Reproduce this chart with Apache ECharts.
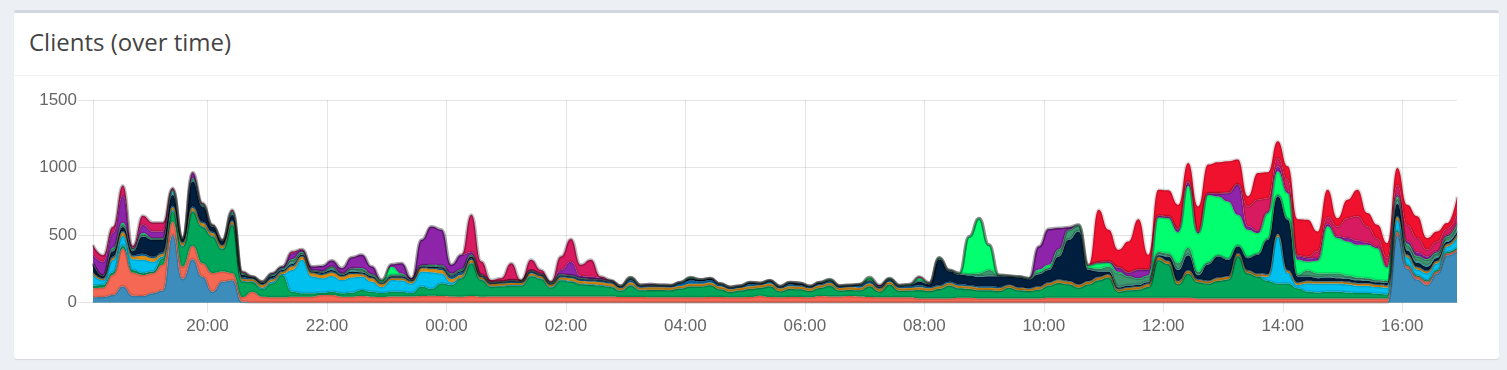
<!DOCTYPE html>
<html>
<head>
<meta charset="utf-8">
<title>Clients (over time)</title>
<script src="https://cdn.jsdelivr.net/npm/echarts/dist/echarts.min.js"></script>
<style>
  html, body { margin: 0; padding: 0; background: #ecf0f5; width: 1507px; height: 370px; overflow: hidden; }
  .box { position: absolute; left: 14px; top: 10px; width: 1485px; height: 349px; background: #fff;
         border-top: 3px solid #d2d6de; border-radius: 3px; box-shadow: 0 1px 1px rgba(0,0,0,0.1); box-sizing: border-box; }
  .box-header { position: absolute; left: 0; top: 0; width: 100%; height: 62px; border-bottom: 1px solid #f4f4f4; }
  .title { position: absolute; left: 29px; top: 30px; margin: 0; font-family: "Open Sans", sans-serif; font-weight: 400;
           font-size: 24px; line-height: 24px; color: #444; white-space: nowrap; }
  #chart { position: absolute; left: 0; top: 0; width: 1507px; height: 370px; }
</style>
</head>
<body>
<div class="box"><div class="box-header"></div></div>
<div class="title">Clients (over time)</div>
<div id="chart"></div>
<script>
// ---- time axis: 10-minute buckets starting 18:05 (day 1) ----
const startTime = '18:05';
const stepMinutes = 10;
const xTickLabels = ['20:00','22:00','00:00','02:00','04:00','06:00','08:00','10:00','12:00','14:00','16:00'];
const yTicks = [0, 500, 1000, 1500];

// ---- one array per client (stacked bottom -> top) ----
const clientSteelblue = [38,40,55,120,50,48,68,88,502,175, 321,190,80,155,165,5,0,0,0,0,
  0,0,0,0,0,0,0,0,0,0, 0,0,0,0,0,0,0,0,0,0, 0,0,0,0,0,0,0,0,0,0, 0,0,0,0,0,0,0,0,0,0,
  0,0,0,0,0,0,0,0,0,0, 0,0,0,0,0,0,0,0,0,0, 0,0,0,0,0,0,0,0,0,0, 0,0,0,0,0,0,0,0,0,0,
  0,0,0,0,0,0,0,0,0,0, 0,0,0,0,0,0,0,0,0,0, 0,0,0,0,0,0,0,0,0,0,
  0,500,250,170,130,215,350,380];
const clientSalmon = [67,70,150,280,170,156,149,191,98,90, 99,100,137,74,52,35,80,43,38,38,
  43,43,43,55,55,43,43,48,43,40, 45,45,45,48,50,48,45,43,48,43, 45,45,45,45,45,45,45,45,45,45,
  45,45,45,40,40,40,38,38,38,38, 38,38,40,40,38,38,40,50,40,38, 40,40,38,48,45,45,48,45,40,38,
  38,38,38,30,30,30,30,35,35,30, 30,30,30,30,30,30,35,35,35,35, 35,35,35,35,35,35,35,35,35,35,
  35,30,30,30,30,30,30,30,30,30, 30,30,30,30,30,30,30,30,30,30, 30,25,20,20,25,15,15,15];
const clientGreen = [20,20,20,25,20,13,12,49,75,150, 255,270,272,166,359,115,72,57,104,166,
  37,25,25,18,25,25,30,45,37,30, 35,35,25,70,50,94,85,137,243,124, 70,75,80,80,150,130,65,120,110,90,
  85,80,70,45,85,50,55,55,53,65, 80,80,88,58,40,50,60,58,80,45, 60,58,47,60,80,43,45,45,80,43,
  95,48,50,63,55,70,95,70,65,60, 60,55,80,60,55,65,90,110,100,75, 100,130,150,45,55,60,80,280,250,100,
  180,120,110,130,140,315,187,162,130,110, 110,75,50,45,50,50,45,40,40,35, 30,10,10,10,10,10,10,10];
const clientCyan = [80,35,90,70,80,99,73,13,12,5, 5,5,5,5,5,5,5,10,13,7,
  161,250,124,107,117,99,113,99,75,45, 87,85,70,111,125,75,20,5,5,5, 5,5,5,5,5,5,5,5,5,5,
  5,5,5,5,5,5,2,2,2,2, 2,2,2,2,2,2,2,2,2,2, 2,2,2,2,2,2,2,2,2,2,
  2,2,2,2,2,2,2,2,2,2, 2,2,2,2,2,2,2,2,2,2, 2,2,2,2,2,2,2,2,2,2,
  2,2,2,2,2,2,2,2,30,350, 80,25,62,65,60,60,60,55,55,50, 50,78,55,45,52,50,40,80];
const clientOrange = [15,10,15,25,20,30,26,19,18,20, 20,23,20,20,19,15,15,20,17,15,
  25,23,25,24,25,25,25,18,25,20, 13,15,15,25,25,24,25,19,20,15, 15,15,15,15,17,15,15,15,20,20,
  20,20,20,15,20,15,18,18,18,18, 18,18,18,18,18,18,18,18,18,18, 18,18,18,18,18,18,18,18,18,18,
  18,18,18,18,18,18,18,18,18,18, 18,18,15,15,15,18,18,18,18,18, 18,18,18,15,18,18,18,18,18,18,
  18,15,15,18,18,15,15,15,15,15, 15,15,15,15,15,15,15,15,15,15, 15,20,15,15,15,15,15,15];
const clientBlue = [5,5,10,10,10,15,10,10,12,5, 12,10,10,5,10,10,5,5,10,5,
  10,5,5,8,8,5,8,5,5,5, 5,5,5,5,5,10,15,18,10,5, 5,5,10,5,10,5,5,10,10,10,
  10,10,10,8,15,8,8,8,8,18, 25,18,18,13,8,8,16,8,16,8, 16,8,8,8,13,8,8,16,18,8,
  13,13,13,15,10,8,8,10,10,10, 10,10,5,5,5,5,5,5,5,5, 5,5,5,5,5,5,5,5,5,5,
  5,5,5,5,5,5,5,5,5,5, 5,5,5,5,5,5,5,5,5,5, 5,10,5,5,5,5,5,5];
const clientNavy = [60,15,40,30,30,128,126,94,82,25, 186,114,37,29,40,20,10,10,15,10,
  10,10,7,10,11,7,10,8,10,5, 10,10,5,8,10,10,10,10,14,5, 5,5,5,5,5,5,5,5,5,5,
  5,5,5,5,10,7,5,5,5,5, 15,10,10,5,5,5,10,5,5,5, 10,15,5,10,5,5,5,5,5,5,
  5,5,5,25,20,190,78,70,70,70, 75,80,60,73,65,90,90,170,304,391, 80,40,20,10,10,10,10,10,30,80,
  110,30,120,155,120,48,89,139,254,276, 373,42,30,20,25,20,20,20,15,15, 15,90,30,30,29,20,15,20];
const clientTeal = [0,0,5,5,5,5,2,2,25,5, 12,5,3,2,10,5,2,3,8,10,
  10,5,5,5,10,5,10,5,5,5, 5,5,3,3,5,5,5,5,5,3, 3,3,3,3,3,3,3,3,3,3,
  3,3,3,3,5,3,2,2,2,2, 2,2,2,2,2,2,2,2,2,2, 2,2,2,2,2,2,2,2,2,2,
  2,2,2,5,3,5,5,5,5,5, 5,3,3,3,3,5,5,5,5,5, 5,5,5,5,5,5,5,5,5,5,
  5,5,5,5,5,5,5,5,5,5, 5,5,5,5,5,5,5,5,5,5, 5,15,10,10,10,10,10,10];
const clientOlive = [5,5,10,10,5,10,5,5,5,0, 5,5,3,2,5,5,1,3,5,5,
  20,10,5,5,15,5,15,20,5,5, 5,5,2,3,5,5,5,5,5,2, 2,2,2,2,2,2,2,2,2,2,
  2,2,2,2,5,2,2,2,2,2, 2,2,2,2,2,2,2,2,2,2, 2,2,2,2,2,2,2,2,2,2,
  2,2,2,5,3,5,5,5,5,20, 40,4,2,2,3,10,10,45,70,40, 10,15,30,100,60,40,40,20,20,45,
  50,20,10,5,5,5,5,5,5,5, 5,10,40,30,25,30,20,15,15,10, 10,22,30,35,40,25,25,40];
const clientLime = [5,0,10,15,5,10,5,5,5,5, 7,5,3,2,10,5,1,2,2,0,
  5,5,0,0,0,0,0,5,5,12, 60,10,0,3,5,5,5,5,5,2, 0,0,0,0,0,0,5,5,2,2,
  0,0,0,0,2,0,2,0,0,0, 5,0,0,0,0,0,0,0,0,0, 0,0,0,0,5,0,0,0,20,0,
  5,0,5,19,3,5,0,2,279,410, 187,2,2,2,2,20,25,5,0,5, 20,40,30,10,5,5,5,255,260,230,
  460,285,500,436,424,225,201,151,189,176, 188,109,66,95,349,262,252,242,247,237, 100,15,10,5,5,5,5,10];
const clientPurple = [60,100,110,200,10,62,50,50,7,0, 38,5,3,2,5,5,1,2,5,10,
  44,14,27,39,45,40,82,100,56,0, 18,76,10,188,283,263,64,106,20,5, 2,0,0,0,0,5,0,30,100,15,
  15,12,5,0,0,0,5,0,0,0, 0,0,0,0,0,0,0,0,0,0, 0,0,0,0,0,0,0,0,0,10,
  0,0,0,5,3,0,0,0,0,0, 0,0,0,0,0,170,264,156,19,0, 4,5,5,30,25,60,40,10,10,20,
  25,10,10,20,61,223,25,15,10,37, 15,24,25,20,20,12,25,30,15,10, 10,15,20,25,20,10,10,15];
const clientPink = [72,50,45,76,15,67,67,67,7,0, 5,5,3,2,7,4,0,0,0,0,
  13,5,0,0,0,0,0,0,0,0, 0,0,0,0,0,0,0,0,275,95, 15,25,126,7,79,26,5,101,168,82,
  126,10,2,0,0,0,0,0,0,0, 0,0,0,0,0,0,0,0,0,0, 0,0,0,0,0,0,0,0,0,0,
  0,0,0,5,0,0,0,0,0,0, 0,0,0,0,0,0,0,0,0,0, 0,5,5,5,5,5,3,5,5,5,
  10,5,5,5,5,5,148,232,100,62, 84,10,10,50,50,74,148,181,121,60, 60,70,120,108,49,70,45,60];
const clientRed = [0,0,0,0,0,0,0,0,0,0, 0,0,0,0,0,0,0,0,0,0,
  0,0,0,0,0,0,0,0,0,0, 0,0,0,0,0,0,0,0,0,0, 0,0,0,0,0,0,0,0,0,0,
  0,0,0,0,0,0,0,0,0,0, 0,0,0,0,0,0,0,0,0,0, 0,0,0,0,0,0,0,0,0,0,
  0,0,0,0,0,0,0,0,0,0, 0,0,0,0,0,0,0,0,0,0, 0,387,234,128,227,372,110,191,191,179,
  134,185,210,228,231,181,75,199,192,124, 99,267,275,146,202,62,137,198,100,104, 110,127,149,160,87,76,43,126];

const seriesList = [
  { name: 'client 1',  color: '#3c8dbc', values: clientSteelblue },
  { name: 'client 2',  color: '#f56954', values: clientSalmon },
  { name: 'client 3',  color: '#00a65a', values: clientGreen },
  { name: 'client 4',  color: '#00c0ef', values: clientCyan },
  { name: 'client 5',  color: '#f39c12', values: clientOrange },
  { name: 'client 6',  color: '#0073b7', values: clientBlue },
  { name: 'client 7',  color: '#001f3f', values: clientNavy },
  { name: 'client 8',  color: '#39cccc', values: clientTeal },
  { name: 'client 9',  color: '#3d9970', values: clientOlive },
  { name: 'client 10', color: '#01ff70', values: clientLime },
  { name: 'client 11', color: '#8e24aa', values: clientPurple },
  { name: 'client 12', color: '#d81b60', values: clientPink },
  { name: 'client 13', color: '#f0112f', values: clientRed }
];

// minutes since midnight of day 1
const toMin = s => { const p = s.split(':'); return (+p[0]) * 60 + (+p[1]); };
const pad = v => (v < 10 ? '0' : '') + v;
const fmt = m => pad(Math.floor(m / 60) % 24) + ':' + pad(m % 60);
const n = clientSteelblue.length;
const startMin = toMin(startTime);
const bucketMins = [];
for (let i = 0; i < n; i++) bucketMins.push(startMin + i * stepMinutes);
const categories = bucketMins.map(fmt);
const tickMins = xTickLabels.map(l => { let m = toMin(l); if (m < startMin) m += 1440; return m; });

const chart = echarts.init(document.getElementById('chart'), null, { renderer: 'canvas' });
const gridColor = 'rgba(0,0,0,0.1)';
const labelFont = { fontFamily: '"Liberation Sans", Arial, Helvetica, sans-serif', fontSize: 17, color: '#666' };

chart.setOption({
  animation: false,
  grid: { left: 93, top: 100, width: 1364, height: 202.5, containLabel: false },
  xAxis: [
    { // data axis: one category per 10-minute bucket (hidden)
      type: 'category', data: categories, boundaryGap: false, show: false
    },
    { // time scale in minutes, used for ticks / labels / grid lines
      type: 'value', min: bucketMins[0], max: bucketMins[n - 1], position: 'bottom',
      axisLine: { show: true, onZero: false, lineStyle: { color: 'rgba(0,0,0,0.25)', width: 1 } },
      axisTick: { show: true, length: 10, customValues: tickMins, lineStyle: { color: gridColor } },
      splitLine: { show: true, lineStyle: { color: gridColor, width: 1 } },
      axisLabel: Object.assign({ margin: 15, customValues: tickMins, formatter: v => fmt(v) }, labelFont)
    }
  ],
  yAxis: {
    type: 'value', min: yTicks[0], max: yTicks[yTicks.length - 1], interval: yTicks[1] - yTicks[0],
    axisLine: { show: true, lineStyle: { color: gridColor } },
    axisTick: { show: true, length: 15, lineStyle: { color: gridColor } },
    splitLine: { show: true, lineStyle: { color: gridColor } },
    axisLabel: Object.assign({ margin: 16, formatter: v => String(v) }, labelFont)
  },
  series: seriesList.map(s => ({
    name: s.name,
    type: 'line',
    xAxisIndex: 0,
    stack: 'total',
    smooth: 0.5,
    smoothMonotone: 'x',
    symbol: 'none',
    showSymbol: false,
    color: s.color,
    lineStyle: { width: 3, color: 'rgba(0,0,0,0.14)' },
    areaStyle: { color: s.color, opacity: 1 },
    emphasis: { disabled: true },
    data: s.values
  }))
});
</script>
</body>
</html>
